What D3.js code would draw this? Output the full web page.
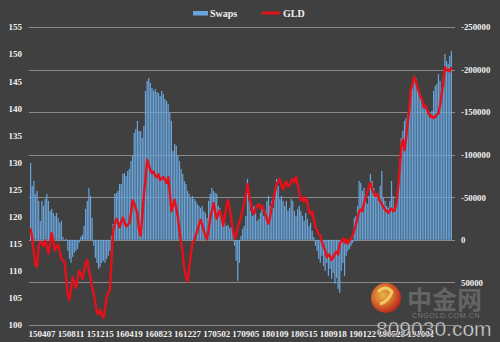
<!DOCTYPE html>
<html><head><meta charset="utf-8">
<script src="https://cdn.jsdelivr.net/npm/d3@7"></script>
<style>html,body{margin:0;padding:0;background:#404040;}svg{display:block}</style>
</head><body><svg id="c" width="500" height="342"></svg>
<script>
// ---- data ----
const startDate = "2015-02-17"; // first weekly category (Tuesday)
const tickLabels = ["150407","150811","151215","160419","160823","161227","170502","170905","180109","180515","180918","190122","190528","191001"];
const leftTicks = [100,105,110,115,120,125,130,135,140,145,150,155];
const rightTicks = [-250000,-200000,-150000,-100000,-50000,0,50000];
const gridValues = [-250000,-200000,-150000,-100000,-50000,0,50000,100000];
const seriesNames = ["Swaps","GLD"];

const gld = [
117.8,116.0,113.5,111.0,110.8,114.5,115.3,115.2,114.6,115.6,
114.5,113.2,115.0,117.0,115.5,113.8,114.5,114.8,113.5,112.3,
112.0,111.5,108.5,105.5,104.6,106.5,108.8,107.8,106.8,108.5,
110.0,109.5,108.5,110.0,111.5,112.0,110.0,108.8,107.0,105.8,
104.0,102.3,102.0,102.8,101.8,101.3,103.0,105.2,106.0,106.5,
112.0,117.5,118.5,119.6,119.0,118.0,119.0,119.8,119.0,118.2,
118.5,118.8,120.5,123.0,122.5,121.5,120.5,117.5,116.5,120.0,
124.0,127.0,130.5,129.5,128.6,128.0,128.3,127.5,127.3,127.8,
126.8,127.0,127.3,126.8,126.2,127.3,124.5,121.0,122.0,123.1,
121.5,119.9,117.5,115.0,113.3,110.5,108.8,108.0,110.5,113.0,
115.0,115.5,116.5,117.3,118.5,119.4,118.5,117.5,116.5,115.8,
117.5,119.9,121.0,122.5,121.0,119.6,120.5,121.2,120.0,118.3,
120.0,122.0,123.1,121.5,119.5,117.5,116.0,116.5,118.0,119.0,
120.0,121.2,122.5,124.0,126.0,124.0,122.5,121.0,120.5,121.5,
122.0,122.3,121.5,122.0,121.3,120.5,119.5,118.7,120.0,121.8,
123.0,124.5,126.0,126.5,127.0,125.8,125.0,126.0,126.5,125.5,
125.8,126.5,127.0,126.3,127.3,126.0,124.5,123.0,123.5,122.8,
123.5,122.5,121.0,120.5,121.0,119.5,118.0,117.5,116.8,116.5,
115.3,114.5,113.8,112.5,113.0,112.8,112.0,112.5,113.2,113.5,
113.0,115.0,115.5,116.0,115.2,115.8,115.0,115.6,116.0,116.5,
117.5,118.5,119.8,121.0,121.3,121.0,122.5,123.5,124.5,125.5,
126.2,125.0,124.4,123.8,124.2,123.6,122.8,122.3,121.8,121.3,
121.0,120.7,121.2,121.5,121.0,121.2,122.5,124.9,128.5,133.0,
134.2,132.3,134.5,137.3,140.0,143.4,144.5,145.8,145.0,143.9,
143.0,142.1,141.5,140.2,140.5,139.7,139.0,138.4,138.6,138.2,
138.4,138.8,139.1,140.5,142.8,144.5,147.6,147.0,147.1,146.8,
147.6];

const swaps = [
-90400,-63400,-69200,-54000,-57500,-45800,-22300,-45800,-39900,-48100,
-54000,-45800,-34000,-36400,-31700,-28200,-31700,-25800,-20000,-22300,
-3500,1200,-1200,12900,22300,27000,20000,15300,12900,10600,
3500,-3500,-5900,-16400,-36400,-45800,-61000,-51600,-25800,7000,
21100,27000,34000,31700,27000,24600,27000,22300,18800,12900,
-4700,-18800,-54000,-55200,-57500,-65700,-65700,-77500,-78600,-75100,
-81000,-83300,-92700,-98600,-125600,-130300,-139700,-127900,-127900,-119700,
-133800,-174900,-186600,-190100,-184300,-178400,-174900,-177200,-173700,-172500,
-169000,-174900,-171400,-165500,-163100,-159600,-149100,-139700,-104500,-112700,
-110300,-98600,-92700,-83300,-77500,-69200,-65700,-57500,-54000,-49300,
-51600,-48100,-45800,-42300,-39900,-37600,-39900,-34000,-31700,-25800,
-45800,-54000,-61000,-57500,-55200,-54000,-39900,-37600,-28200,-22300,
-20000,-16400,-17600,-14100,-15300,-10600,7000,24600,48100,27000,
-4700,-12900,-16400,-28200,-71600,-45800,-34000,-28200,-39900,-31700,
-22300,-24600,-31700,-36400,-28200,-34000,-45800,-51600,-39900,-45800,
-37600,-57500,-71600,-63400,-48100,-51600,-45800,-39900,-45800,-34000,
-37600,-48100,-45800,-34000,-28200,-36400,-39900,-34000,-28200,-22300,
-31700,-24600,-16400,-20000,-10600,-3500,7000,12900,22300,27000,
18800,30500,36400,27000,42300,34000,45800,38700,51600,44600,
57500,62200,36400,27000,42300,18800,12900,10600,7000,3500,
-25800,-28200,-39900,-69200,-66900,-57500,-61000,-45800,-42300,-51600,
-77500,-69200,-61000,-55200,-51600,-45800,-63400,-81000,-49300,-45800,
-39900,-37600,-45800,-69200,-51600,-34000,-39900,-57500,-81000,-119700,
-127900,-139700,-143200,-147900,-151400,-174900,-184300,-189000,-190100,-180800,
-174900,-166700,-159600,-157300,-153800,-151400,-147900,-145500,-151400,-174900,
-180800,-183100,-194800,-186600,-178400,-192500,-218300,-210100,-206600,-216000,
-221800];

// ---- chart ----
const W = 500, H = 342;
const svg = d3.select("#c");
const bg = "#404040", txt = "#f0f0f0", blue = "#69a5dc", red = "#e5101a", grid = "#8a8a8a";
const serif = "'Liberation Serif','Times New Roman',serif";
svg.append("rect").attr("width", W).attr("height", H).attr("fill", bg);

const t0 = d3.timeParse("%Y-%m-%d")(startDate);
const fmt = d3.timeFormat("%y%m%d");
const categories = gld.map((_, i) => fmt(d3.timeWeek.offset(t0, i)));

const x = d3.scaleBand().domain(categories).range([30, 452]).paddingInner(0.25).paddingOuter(0);
const yL = d3.scaleLinear().domain([100, 155]).range([325, 27]);
const yR = d3.scaleLinear().domain([100000, -250000]).range([325, 27]);

// gridlines
svg.append("g").selectAll("line").data(gridValues).join("line")
  .attr("x1", 29).attr("x2", 455)
  .attr("y1", d => Math.round(yR(d)) + 0.5).attr("y2", d => Math.round(yR(d)) + 0.5)
  .attr("stroke", grid).attr("stroke-width", 1);

// bars
svg.append("g").selectAll("rect").data(swaps).join("rect")
  .attr("x", (d, i) => x(categories[i]))
  .attr("width", x.bandwidth())
  .attr("y", d => Math.min(yR(d), yR(0)))
  .attr("height", d => Math.abs(yR(d) - yR(0)))
  .attr("fill", blue);

// GLD line
const line = d3.line()
  .x((d, i) => x(categories[i]) + x.bandwidth() / 2)
  .y(d => yL(d));
svg.append("path").datum(gld).attr("d", line)
  .attr("fill", "none").attr("stroke", red).attr("stroke-width", 2.4)
  .attr("stroke-linejoin", "round");

// axes
function styleAxis(g, anchor, size) {
  g.select(".domain").remove();
  g.selectAll("text").attr("fill", txt).attr("font-family", serif)
    .attr("font-weight", "bold").attr("font-size", size);
  if (anchor) g.selectAll("text").attr("text-anchor", anchor);
}
svg.append("g").attr("transform", "translate(22,0)")
  .call(d3.axisLeft(yL).tickValues(leftTicks).tickSize(0).tickPadding(0).tickFormat(d => String(d)))
  .call(g => styleAxis(g, "end", "9px"));
svg.append("g").attr("transform", "translate(461,0)")
  .call(d3.axisRight(yR).tickValues(rightTicks).tickSize(0).tickPadding(0).tickFormat(d => String(d)))
  .call(g => styleAxis(g, "start", "8.8px"));
svg.append("g").attr("transform", "translate(0,328)")
  .call(d3.axisBottom(x).tickValues(tickLabels).tickSize(0).tickPadding(0))
  .call(g => styleAxis(g, "middle", "9px"))
  .call(g => g.selectAll("text").attr("dy", "0.95em"));

// legend
const lg = svg.append("g");
lg.append("rect").attr("x", 193).attr("y", 11).attr("width", 15).attr("height", 4.5).attr("fill", blue);
lg.append("text").attr("x", 210).attr("y", 17).text(seriesNames[0]);
lg.append("line").attr("x1", 262).attr("x2", 280).attr("y1", 13).attr("y2", 13)
  .attr("stroke", red).attr("stroke-width", 3);
lg.append("text").attr("x", 283).attr("y", 17).text(seriesNames[1]);
lg.selectAll("text").attr("fill", txt).attr("font-family", serif).attr("font-weight", "bold").attr("font-size", "10px");

// watermark
const defs = svg.append("defs");
const rg = defs.append("radialGradient").attr("id", "lg1").attr("cx", "40%").attr("cy", "40%").attr("r", "60%");
rg.append("stop").attr("offset", "0%").attr("stop-color", "#f7c04a");
rg.append("stop").attr("offset", "55%").attr("stop-color", "#e8742a");
rg.append("stop").attr("offset", "100%").attr("stop-color", "#c8281c");
const wm = svg.append("g");
wm.append("circle").attr("cx", 386).attr("cy", 298).attr("r", 15).attr("fill", "url(#lg1)").attr("opacity", 0.9);
wm.append("path").attr("d", "M378,292 q8,-8 14,0 q-4,10 -12,12")
  .attr("fill", "none").attr("stroke", "#f4d26a").attr("stroke-width", 3).attr("opacity", 0.9);
wm.append("text").attr("x", 407).attr("y", 309).text("中金网")
  .attr("font-family", "'Noto Sans CJK SC',sans-serif").attr("font-weight", "bold")
  .attr("font-size", "25px").attr("fill", "#6b6b6b").attr("opacity", 0.85);
wm.append("text").attr("x", 412).attr("y", 318).text("CNGOLD.COM.CN")
  .attr("font-family", "'Liberation Sans',sans-serif").attr("font-size", "7px")
  .attr("letter-spacing", "0.6px").attr("fill", "#7a7a7a");
wm.append("text").attr("x", 376).attr("y", 336).text("809030.com")
  .attr("font-family", "'Liberation Sans',sans-serif").attr("font-size", "21px")
  .attr("fill", "#f2f2f2").attr("stroke", "#555").attr("stroke-width", 0.6).attr("opacity", 0.9);
</script>
</body></html>
